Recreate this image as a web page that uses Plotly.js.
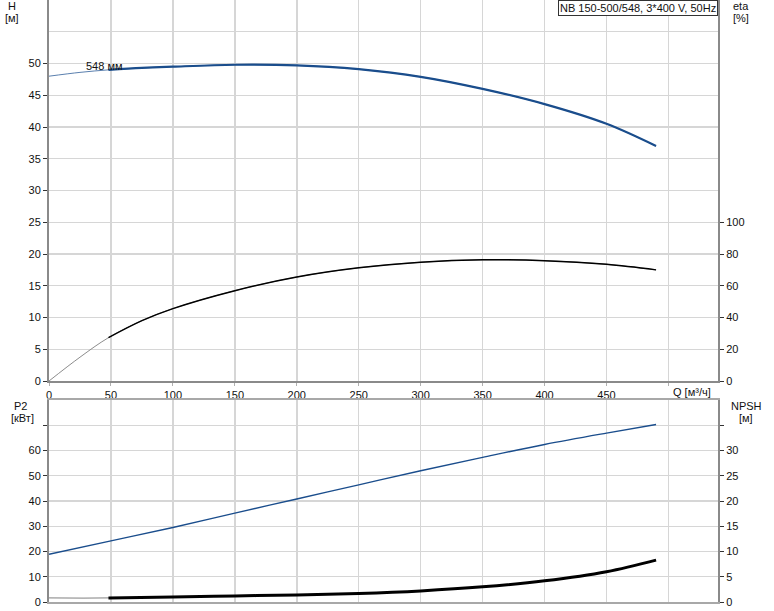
<!DOCTYPE html>
<html>
<head>
<meta charset="utf-8">
<script src="https://cdn.plot.ly/plotly-3.0.1.min.js"></script>
<style>html,body{margin:0;padding:0;background:#fff;}#chart{width:774px;height:611px;}</style>
</head>
<body>
<div id="chart"></div>
<script>
// ---- Data ----
var qH = [0, 25, 48, 75, 100, 150, 200, 250, 300, 350, 400, 450, 490];
var headH = [48.0, 48.6, 49.0, 49.3, 49.5, 49.8, 49.7, 49.1, 47.9, 46.0, 43.6, 40.5, 37.0];
var etaVals = [0, 15, 27.3, 38, 45.6, 56.9, 65.5, 71.3, 74.8, 76.3, 75.8, 73.5, 70.0];
var qP = [0, 50, 100, 150, 200, 250, 300, 350, 400, 450, 490];
var p2Vals = [18.9, 24.2, 29.5, 35.2, 40.8, 46.4, 52.0, 57.3, 62.4, 66.9, 70.3];
var qN = [0, 48, 100, 150, 200, 250, 300, 350, 400, 450, 490];
var npshVals = [0.8, 0.8, 1.0, 1.2, 1.4, 1.7, 2.2, 3.0, 4.2, 6.0, 8.3];
var splitQ = 48; // start of the operating range (thin part before it)
var xTicks = [0, 50, 100, 150, 200, 250, 300, 350, 400, 450, 500];
var xTickText = ['0', '50', '100', '150', '200', '250', '300', '350', '400', '450', ''];
var hTicks = [0, 5, 10, 15, 20, 25, 30, 35, 40, 45, 50];
var etaTicks = [0, 20, 40, 60, 80, 100];
var p2Ticks = [0, 10, 20, 30, 40, 50, 60, 70];
var p2TickText = ['0', '10', '20', '30', '40', '50', '60', ''];
var npshTicks = [0, 5, 10, 15, 20, 25, 30, 35];
var npshTickText = ['0', '5', '10', '15', '20', '25', '30', ''];
var legendText = 'NB 150-500/548, 3*400 V, 50Hz';
var curveLabel = '548 мм';

function fromSplit(xs, ys) {
  var ox = [], oy = [];
  for (var i = 0; i < xs.length; i++) {
    if (xs[i] >= splitQ) { ox.push(xs[i]); oy.push(ys[i]); }
  }
  return {x: ox, y: oy};
}

var blue = '#1a4d8c';
var hB = fromSplit(qH, headH);
var eB = fromSplit(qH, etaVals);
var nB = fromSplit(qN, npshVals);

var traces = [
  {x: qH, y: headH, xaxis: 'x', yaxis: 'y', mode: 'lines', line: {color: '#5a7fae', width: 1, shape: 'spline'}, hoverinfo: 'skip'},
  {x: hB.x, y: hB.y, xaxis: 'x', yaxis: 'y', mode: 'lines', line: {color: blue, width: 2.2, shape: 'spline'}, hoverinfo: 'skip'},
  {x: qH, y: etaVals, xaxis: 'x', yaxis: 'y2', mode: 'lines', line: {color: '#8c8c8c', width: 1, shape: 'spline'}, hoverinfo: 'skip'},
  {x: eB.x, y: eB.y, xaxis: 'x', yaxis: 'y2', mode: 'lines', line: {color: '#000000', width: 1.5, shape: 'spline'}, hoverinfo: 'skip'},
  {x: qP, y: p2Vals, xaxis: 'x2', yaxis: 'y3', mode: 'lines', line: {color: blue, width: 1.4, shape: 'spline'}, hoverinfo: 'skip'},
  {x: qN, y: npshVals, xaxis: 'x2', yaxis: 'y4', mode: 'lines', line: {color: '#9a9a9a', width: 1.2, shape: 'spline'}, hoverinfo: 'skip'},
  {x: nB.x, y: nB.y, xaxis: 'x2', yaxis: 'y4', mode: 'lines', line: {color: '#000000', width: 3, shape: 'spline'}, hoverinfo: 'skip'}
];

var font = {family: 'Liberation Sans, Arial, sans-serif', size: 11, color: '#111111'};
var gridC = '#d6d6d6';
var axisC = '#8a8a8a';
var topDom = [(602 - 381) / 602, 1];
var botDom = [0, (602 - 400) / 602];

var layout = {
  width: 774, height: 611,
  margin: {l: 49, r: 56, t: 0, b: 9, pad: 0},
  paper_bgcolor: '#ffffff', plot_bgcolor: '#ffffff',
  showlegend: false,
  font: font,
  xaxis: {
    domain: [0, 1], anchor: 'y', range: [0, 540],
    tickmode: 'array', tickvals: xTicks, ticktext: xTickText,
    ticks: 'outside', ticklen: 3, tickcolor: '#b0b0b0', tickfont: font,
    showgrid: true, gridcolor: gridC, gridwidth: 1.5,
    showline: true, linecolor: axisC, linewidth: 2, zeroline: false
  },
  xaxis2: {
    domain: [0, 1], anchor: 'y3', range: [0, 540], matches: 'x',
    tickmode: 'array', tickvals: xTicks, showticklabels: false, ticks: '',
    showgrid: true, gridcolor: gridC, gridwidth: 1.5,
    showline: true, linecolor: '#a8a8a8', linewidth: 2, mirror: true, zeroline: false
  },
  yaxis: {
    domain: topDom, anchor: 'x', range: [0, 60],
    tickmode: 'array', tickvals: hTicks,
    ticks: 'outside', ticklen: 4, tickcolor: '#333', tickfont: font,
    showgrid: true, gridcolor: gridC, gridwidth: 1.2,
    minor: {dtick: 5, showgrid: true, gridcolor: gridC, gridwidth: 1.2, ticks: ''},
    showline: true, linecolor: axisC, linewidth: 2, zeroline: false
  },
  yaxis2: {
    overlaying: 'y', side: 'right', anchor: 'x', range: [0, 240],
    tickmode: 'array', tickvals: etaTicks,
    ticks: 'outside', ticklen: 4, tickcolor: '#333', tickfont: font,
    showgrid: false, showline: true, linecolor: axisC, linewidth: 2, zeroline: false
  },
  yaxis3: {
    domain: botDom, anchor: 'x2', range: [0, 80],
    tickmode: 'array', tickvals: p2Ticks, ticktext: p2TickText,
    ticks: 'outside', ticklen: 4, tickcolor: '#333', tickfont: font,
    showgrid: true, gridcolor: gridC, gridwidth: 1.2,
    showline: true, linecolor: axisC, linewidth: 2, zeroline: false
  },
  yaxis4: {
    overlaying: 'y3', side: 'right', anchor: 'x2', range: [0, 40],
    tickmode: 'array', tickvals: npshTicks, ticktext: npshTickText,
    ticks: 'outside', ticklen: 4, tickcolor: '#333', tickfont: font,
    showgrid: false, showline: true, linecolor: axisC, linewidth: 2, zeroline: false
  },
  annotations: [
    {xref: 'paper', yref: 'paper', x: -37 / 669, y: 1, yanchor: 'top', xanchor: 'center', yshift: 2, text: 'H', showarrow: false, font: font},
    {xref: 'paper', yref: 'paper', x: -37 / 669, y: 1, yanchor: 'top', xanchor: 'center', yshift: -10, text: '[м]', showarrow: false, font: font},
    {xref: 'paper', yref: 'paper', x: 1 + 23 / 669, y: 1, yanchor: 'top', xanchor: 'center', yshift: 2, text: 'eta', showarrow: false, font: font},
    {xref: 'paper', yref: 'paper', x: 1 + 23 / 669, y: 1, yanchor: 'top', xanchor: 'center', yshift: -10, text: '[%]', showarrow: false, font: font},
    {xref: 'paper', yref: 'paper', x: -29 / 669, y: botDom[1], yanchor: 'top', xanchor: 'center', yshift: 2, text: 'P2', showarrow: false, font: font},
    {xref: 'paper', yref: 'paper', x: -27 / 669, y: botDom[1], yanchor: 'top', xanchor: 'center', yshift: -10, text: '[кВт]', showarrow: false, font: font},
    {xref: 'paper', yref: 'paper', x: 1 + 28 / 669, y: botDom[1], yanchor: 'top', xanchor: 'center', yshift: 2, text: 'NPSH', showarrow: false, font: font},
    {xref: 'paper', yref: 'paper', x: 1 + 28 / 669, y: botDom[1], yanchor: 'top', xanchor: 'center', yshift: -10, text: '[м]', showarrow: false, font: font},
    {xref: 'paper', yref: 'paper', x: 1 - 5 / 669, y: topDom[0], yanchor: 'top', xanchor: 'right', yshift: -3, text: 'Q [м³/ч]', showarrow: false, font: font},
    {xref: 'paper', yref: 'paper', x: 1, y: 1, yanchor: 'top', xanchor: 'right', text: legendText, showarrow: false, font: font,
     bordercolor: '#333333', borderwidth: 1, borderpad: 1, bgcolor: '#ffffff'},
    {xref: 'x', yref: 'y', x: 28, y: 49.6, xanchor: 'left', yanchor: 'middle', text: curveLabel, showarrow: false, font: font}
  ]
};

Plotly.newPlot('chart', traces, layout, {staticPlot: true, displayModeBar: false});
</script>
</body>
</html>
